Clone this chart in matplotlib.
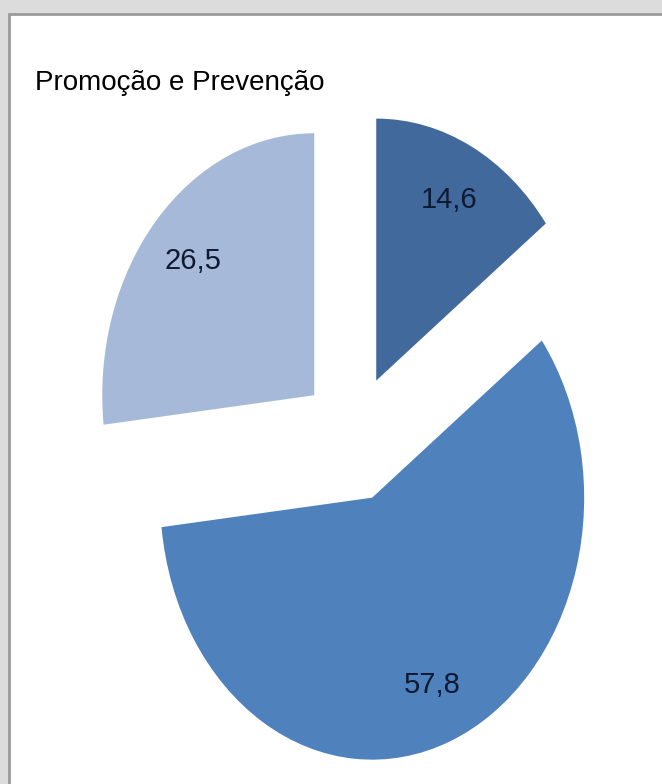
import matplotlib.pyplot as plt
from matplotlib.patches import Rectangle

# data
labels = ['A', 'B', 'C']
values = [14.6, 57.8, 26.5]
colors = ['#41699c', '#4f81bd', '#a7b9d8']
title = 'Promoção e Prevenção'

plt.rcParams['font.family'] = ['Liberation Sans', 'DejaVu Sans']

W, H = 662, 784
fig = plt.figure(figsize=(W / 100, H / 100), dpi=100, facecolor='#dcdcdc')

# white chart panel with grey border (own axes under the pie)
bg = fig.add_axes([0, 0, 1, 1], zorder=0)
bg.set_xlim(0, W)
bg.set_ylim(H, 0)
bg.axis('off')
bg.add_patch(Rectangle((9, 14), W + 20, H + 20, facecolor='white',
                       edgecolor='#9a9a9a', linewidth=2))

ax = fig.add_axes([0, 0, 1, 1], zorder=1)
ax.patch.set_alpha(0)

total = sum(values)
def fmt(p):
    # pie gives percent of total; show the original value with decimal comma
    return ('%.1f' % (p * total / 100)).replace('.', ',')

wedges, texts, autotexts = ax.pie(
    values, colors=colors, startangle=90, counterclock=False,
    explode=[0.245] * 3, autopct=fmt,
    pctdistance=0.77, wedgeprops={'linewidth': 0},
    textprops={'fontsize': 21, 'color': '#0d1a33'})

# stretch the pie vertically like the original
cx, cy, rx, ry = 353, 438, 212, 262
ax.set_aspect('auto')
ax.set_xlim(-cx / rx, (W - cx) / rx)
ax.set_ylim((cy - H) / ry, cy / ry)
ax.axis('off')

fig.text(35 / W, 1 - 90 / H, title, fontsize=20, color='black',
         va='baseline', ha='left', zorder=3)

fig.savefig('out.png', dpi=100, facecolor=fig.get_facecolor())
